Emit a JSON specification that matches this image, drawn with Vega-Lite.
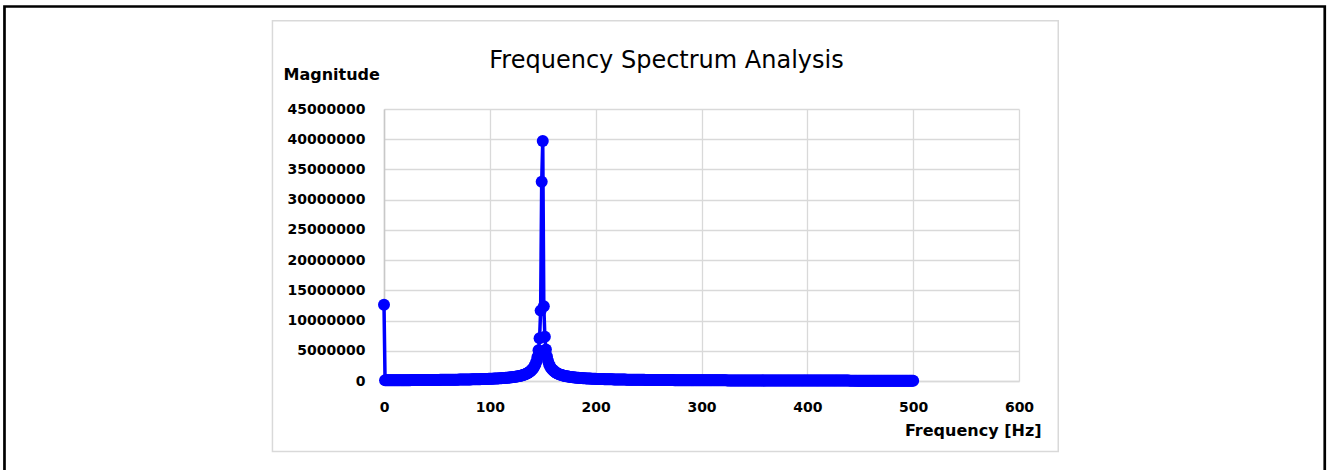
{
  "$schema": "https://vega.github.io/schema/vega-lite/v6.json",
  "width": 635,
  "height": 272,
  "autosize": {"type": "none"},
  "padding": {"left": 384, "top": 109, "right": 308, "bottom": 89},
  "background": "#ffffff",
  "title": {"text": "Frequency Spectrum Analysis", "font": "DejaVu Sans", "fontSize": 24, "fontWeight": "normal", "color": "#000000", "anchor": "middle", "frame": "group", "dx": -35, "offset": -87, "baseline": "alphabetic"},
  "config": {"view": {"stroke": null}, "axisY": {"tickCount": 10}},
  "layer": [
    {
      "data": {"values": [
{"f":0,"m":12600000},{"f":1,"m":121170},{"f":2,"m":122000},{"f":3,"m":122830},{"f":4,"m":123670},{"f":5,"m":124530},{"f":6,"m":125400},{"f":7,"m":126280},{"f":8,"m":127170},{"f":9,"m":128070},
{"f":10,"m":128990},{"f":11,"m":129920},{"f":12,"m":130870},{"f":13,"m":131820},{"f":14,"m":132800},{"f":15,"m":133780},{"f":16,"m":134790},{"f":17,"m":135800},{"f":18,"m":136830},{"f":19,"m":137880},
{"f":20,"m":138950},{"f":21,"m":140030},{"f":22,"m":141130},{"f":23,"m":142240},{"f":24,"m":143370},{"f":25,"m":144530},{"f":26,"m":145690},{"f":27,"m":146880},{"f":28,"m":148090},{"f":29,"m":149320},
{"f":30,"m":150570},{"f":31,"m":151840},{"f":32,"m":153130},{"f":33,"m":154450},{"f":34,"m":155780},{"f":35,"m":157140},{"f":36,"m":158530},{"f":37,"m":159930},{"f":38,"m":161370},{"f":39,"m":162830},
{"f":40,"m":164320},{"f":41,"m":165830},{"f":42,"m":167370},{"f":43,"m":168940},{"f":44,"m":170540},{"f":45,"m":172170},{"f":46,"m":173830},{"f":47,"m":175530},{"f":48,"m":177260},{"f":49,"m":179020},
{"f":50,"m":180820},{"f":51,"m":182650},{"f":52,"m":184530},{"f":53,"m":186440},{"f":54,"m":188390},{"f":55,"m":190380},{"f":56,"m":192420},{"f":57,"m":194500},{"f":58,"m":196620},{"f":59,"m":198790},
{"f":60,"m":201010},{"f":61,"m":203280},{"f":62,"m":205610},{"f":63,"m":207980},{"f":64,"m":210410},{"f":65,"m":212900},{"f":66,"m":215450},{"f":67,"m":218060},{"f":68,"m":220730},{"f":69,"m":223470},
{"f":70,"m":226280},{"f":71,"m":229160},{"f":72,"m":232120},{"f":73,"m":235150},{"f":74,"m":238270},{"f":75,"m":241460},{"f":76,"m":244740},{"f":77,"m":248120},{"f":78,"m":251590},{"f":79,"m":255150},
{"f":80,"m":258820},{"f":81,"m":262600},{"f":82,"m":266480},{"f":83,"m":270490},{"f":84,"m":274620},{"f":85,"m":278870},{"f":86,"m":283260},{"f":87,"m":287790},{"f":88,"m":292460},{"f":89,"m":297290},
{"f":90,"m":302290},{"f":91,"m":307450},{"f":92,"m":312790},{"f":93,"m":318330},{"f":94,"m":324060},{"f":95,"m":330000},{"f":96,"m":336160},{"f":97,"m":342560},{"f":98,"m":349200},{"f":99,"m":356110},
{"f":100,"m":363300},{"f":101,"m":370780},{"f":102,"m":378580},{"f":103,"m":386710},{"f":104,"m":395200},{"f":105,"m":404070},{"f":106,"m":413360},{"f":107,"m":423070},{"f":108,"m":433260},{"f":109,"m":443940},
{"f":110,"m":455170},{"f":111,"m":466980},{"f":112,"m":479410},{"f":113,"m":492530},{"f":114,"m":506390},{"f":115,"m":521050},{"f":116,"m":536580},{"f":117,"m":553060},{"f":118,"m":570590},{"f":119,"m":589270},
{"f":120,"m":609220},{"f":121,"m":630560},{"f":122,"m":653450},{"f":123,"m":678070},{"f":124,"m":704610},{"f":125,"m":733310},{"f":126,"m":764460},{"f":127,"m":798370},{"f":128,"m":835420},{"f":129,"m":876080},
{"f":130,"m":920900},{"f":131,"m":970560},{"f":132,"m":1025860},{"f":133,"m":1087880},{"f":134,"m":1157850},{"f":135,"m":1237450},{"f":136,"m":1328800},{"f":137,"m":1434720},{"f":138,"m":1558970},{"f":139,"m":1706810},
{"f":140,"m":1885610},{"f":141,"m":2106250},{"f":142,"m":2385370},{"f":143,"m":2749770},{"f":144,"m":3245580},{"f":145,"m":3959520},{"f":146,"m":5076140},{"f":147,"m":7069910},{"f":148,"m":11642950},{"f":149,"m":32967030},
{"f":150,"m":39700000},{"f":151,"m":12379640},{"f":152,"m":7334960},{"f":153,"m":5211350},{"f":154,"m":4041310},{"f":155,"m":3300330},{"f":156,"m":2788970},{"f":157,"m":2414820},{"f":158,"m":2129170},{"f":159,"m":1903960},
{"f":160,"m":1721830},{"f":161,"m":1571520},{"f":162,"m":1445320},{"f":163,"m":1337890},{"f":164,"m":1245330},{"f":165,"m":1164750},{"f":166,"m":1093960},{"f":167,"m":1031280},{"f":168,"m":975400},{"f":169,"m":925260},
{"f":170,"m":880020},{"f":171,"m":839000},{"f":172,"m":801640},{"f":173,"m":767460},{"f":174,"m":736080},{"f":175,"m":707160},{"f":176,"m":680430},{"f":177,"m":655640},{"f":178,"m":632610},{"f":179,"m":611120},
{"f":180,"m":591060},{"f":181,"m":572260},{"f":182,"m":554630},{"f":183,"m":538050},{"f":184,"m":522440},{"f":185,"m":507700},{"f":186,"m":493770},{"f":187,"m":480590},{"f":188,"m":468090},{"f":189,"m":456230},
{"f":190,"m":444950},{"f":191,"m":434220},{"f":192,"m":423990},{"f":193,"m":414230},{"f":194,"m":404910},{"f":195,"m":396000},{"f":196,"m":387480},{"f":197,"m":379310},{"f":198,"m":371490},{"f":199,"m":363970},
{"f":200,"m":356760},{"f":201,"m":349830},{"f":202,"m":343160},{"f":203,"m":336740},{"f":204,"m":330550},{"f":205,"m":324590},{"f":206,"m":318840},{"f":207,"m":313290},{"f":208,"m":307930},{"f":209,"m":302760},
{"f":210,"m":297750},{"f":211,"m":292900},{"f":212,"m":288210},{"f":213,"m":283670},{"f":214,"m":279270},{"f":215,"m":275000},{"f":216,"m":270860},{"f":217,"m":266850},{"f":218,"m":262950},{"f":219,"m":259160},
{"f":220,"m":255490},{"f":221,"m":251910},{"f":222,"m":248430},{"f":223,"m":245050},{"f":224,"m":241760},{"f":225,"m":238560},{"f":226,"m":235440},{"f":227,"m":232400},{"f":228,"m":229430},{"f":229,"m":226540},
{"f":230,"m":223730},{"f":231,"m":220980},{"f":232,"m":218300},{"f":233,"m":215690},{"f":234,"m":213130},{"f":235,"m":210640},{"f":236,"m":208200},{"f":237,"m":205820},{"f":238,"m":203490},{"f":239,"m":201220},
{"f":240,"m":199000},{"f":241,"m":196820},{"f":242,"m":194690},{"f":243,"m":192610},{"f":244,"m":190570},{"f":245,"m":188580},{"f":246,"m":186620},{"f":247,"m":184700},{"f":248,"m":182830},{"f":249,"m":180990},
{"f":250,"m":179190},{"f":251,"m":177420},{"f":252,"m":175690},{"f":253,"m":173990},{"f":254,"m":172320},{"f":255,"m":170690},{"f":256,"m":169090},{"f":257,"m":167510},{"f":258,"m":165970},{"f":259,"m":164450},
{"f":260,"m":162960},{"f":261,"m":161500},{"f":262,"m":160070},{"f":263,"m":158650},{"f":264,"m":157270},{"f":265,"m":155910},{"f":266,"m":154570},{"f":267,"m":153250},{"f":268,"m":151960},{"f":269,"m":150690},
{"f":270,"m":149440},{"f":271,"m":148210},{"f":272,"m":146990},{"f":273,"m":145800},{"f":274,"m":144630},{"f":275,"m":143480},{"f":276,"m":142340},{"f":277,"m":141230},{"f":278,"m":140130},{"f":279,"m":139050},
{"f":280,"m":137980},{"f":281,"m":136930},{"f":282,"m":135900},{"f":283,"m":134880},{"f":284,"m":133870},{"f":285,"m":132890},{"f":286,"m":131910},{"f":287,"m":130950},{"f":288,"m":130010},{"f":289,"m":129080},
{"f":290,"m":128160},{"f":291,"m":127250},{"f":292,"m":126360},{"f":293,"m":125480},{"f":294,"m":124610},{"f":295,"m":123750},{"f":296,"m":122910},{"f":297,"m":122070},{"f":298,"m":121250},{"f":299,"m":120440},
{"f":300,"m":119640},{"f":301,"m":118850},{"f":302,"m":118070},{"f":303,"m":117300},{"f":304,"m":116540},{"f":305,"m":115790},{"f":306,"m":115050},{"f":307,"m":114320},{"f":308,"m":113600},{"f":309,"m":112880},
{"f":310,"m":112180},{"f":311,"m":111490},{"f":312,"m":110800},{"f":313,"m":110120},{"f":314,"m":109450},{"f":315,"m":108790},{"f":316,"m":108140},{"f":317,"m":107490},{"f":318,"m":106850},{"f":319,"m":106220},
{"f":320,"m":105600},{"f":321,"m":104980},{"f":322,"m":104380},{"f":323,"m":103770},{"f":324,"m":103180},{"f":325,"m":102590},{"f":326,"m":102010},{"f":327,"m":101430},{"f":328,"m":100870},{"f":329,"m":100300},
{"f":330,"m":99750},{"f":331,"m":99200},{"f":332,"m":98650},{"f":333,"m":98120},{"f":334,"m":97580},{"f":335,"m":97060},{"f":336,"m":96540},{"f":337,"m":96020},{"f":338,"m":95510},{"f":339,"m":95010},
{"f":340,"m":94510},{"f":341,"m":94020},{"f":342,"m":93530},{"f":343,"m":93050},{"f":344,"m":92570},{"f":345,"m":92090},{"f":346,"m":91620},{"f":347,"m":91160},{"f":348,"m":90700},{"f":349,"m":90250},
{"f":350,"m":89800},{"f":351,"m":89350},{"f":352,"m":88910},{"f":353,"m":88470},{"f":354,"m":88040},{"f":355,"m":87610},{"f":356,"m":87190},{"f":357,"m":86770},{"f":358,"m":86350},{"f":359,"m":85940},
{"f":360,"m":85530},{"f":361,"m":85130},{"f":362,"m":84720},{"f":363,"m":84330},{"f":364,"m":83930},{"f":365,"m":83540},{"f":366,"m":83160},{"f":367,"m":82780},{"f":368,"m":82400},{"f":369,"m":82020},
{"f":370,"m":81650},{"f":371,"m":81280},{"f":372,"m":80920},{"f":373,"m":80550},{"f":374,"m":80190},{"f":375,"m":79840},{"f":376,"m":79490},{"f":377,"m":79140},{"f":378,"m":78790},{"f":379,"m":78450},
{"f":380,"m":78110},{"f":381,"m":77770},{"f":382,"m":77440},{"f":383,"m":77100},{"f":384,"m":76770},{"f":385,"m":76450},{"f":386,"m":76120},{"f":387,"m":75800},{"f":388,"m":75490},{"f":389,"m":75170},
{"f":390,"m":74860},{"f":391,"m":74550},{"f":392,"m":74240},{"f":393,"m":73940},{"f":394,"m":73630},{"f":395,"m":73330},{"f":396,"m":73040},{"f":397,"m":72740},{"f":398,"m":72450},{"f":399,"m":72160},
{"f":400,"m":71870},{"f":401,"m":71580},{"f":402,"m":71300},{"f":403,"m":71020},{"f":404,"m":70740},{"f":405,"m":70460},{"f":406,"m":70190},{"f":407,"m":69920},{"f":408,"m":69650},{"f":409,"m":69380},
{"f":410,"m":69110},{"f":411,"m":68850},{"f":412,"m":68580},{"f":413,"m":68320},{"f":414,"m":68060},{"f":415,"m":67810},{"f":416,"m":67550},{"f":417,"m":67300},{"f":418,"m":67050},{"f":419,"m":66800},
{"f":420,"m":66550},{"f":421,"m":66310},{"f":422,"m":66070},{"f":423,"m":65820},{"f":424,"m":65590},{"f":425,"m":65350},{"f":426,"m":65110},{"f":427,"m":64880},{"f":428,"m":64640},{"f":429,"m":64410},
{"f":430,"m":64180},{"f":431,"m":63960},{"f":432,"m":63730},{"f":433,"m":63500},{"f":434,"m":63280},{"f":435,"m":63060},{"f":436,"m":62840},{"f":437,"m":62620},{"f":438,"m":62400},{"f":439,"m":62190},
{"f":440,"m":61970},{"f":441,"m":61760},{"f":442,"m":61550},{"f":443,"m":61340},{"f":444,"m":61130},{"f":445,"m":60920},{"f":446,"m":60720},{"f":447,"m":60510},{"f":448,"m":60310},{"f":449,"m":60110},
{"f":450,"m":59910},{"f":451,"m":59710},{"f":452,"m":59510},{"f":453,"m":59320},{"f":454,"m":59120},{"f":455,"m":58930},{"f":456,"m":58740},{"f":457,"m":58550},{"f":458,"m":58360},{"f":459,"m":58170},
{"f":460,"m":57980},{"f":461,"m":57790},{"f":462,"m":57610},{"f":463,"m":57420},{"f":464,"m":57240},{"f":465,"m":57060},{"f":466,"m":56880},{"f":467,"m":56700},{"f":468,"m":56520},{"f":469,"m":56350},
{"f":470,"m":56170},{"f":471,"m":56000},{"f":472,"m":55820},{"f":473,"m":55650},{"f":474,"m":55480},{"f":475,"m":55310},{"f":476,"m":55140},{"f":477,"m":54970},{"f":478,"m":54800},{"f":479,"m":54640},
{"f":480,"m":54470},{"f":481,"m":54310},{"f":482,"m":54140},{"f":483,"m":53980},{"f":484,"m":53820},{"f":485,"m":53660},{"f":486,"m":53500},{"f":487,"m":53340},{"f":488,"m":53180},{"f":489,"m":53030},
{"f":490,"m":52870},{"f":491,"m":52720},{"f":492,"m":52560},{"f":493,"m":52410},{"f":494,"m":52260},{"f":495,"m":52110},{"f":496,"m":51950},{"f":497,"m":51810},{"f":498,"m":51660},{"f":499,"m":51510},
{"f":500,"m":51360}
      ]},
      "mark": {"type": "line", "color": "#0000ff", "strokeWidth": 3.5, "point": {"filled": true, "size": 144, "color": "#0000ff"}},
      "encoding": {
        "x": {"field": "f", "type": "quantitative",
          "scale": {"domain": [0, 600], "nice": false, "zero": false},
          "axis": {"title": "Frequency [Hz]", "values": [0, 100, 200, 300, 400, 500, 600], "tickCount": 10, "format": "d",
            "labelFont": "DejaVu Sans", "labelFontWeight": "bold", "labelFontSize": 14, "labelColor": "#000000", "labelPadding": 19, "labelFlush": false, "labelOverlap": false,
            "ticks": false, "domainColor": "#d9d9d9", "domainWidth": 1.3, "gridColor": "#d9d9d9", "gridWidth": 1.3,
            "titleFont": "DejaVu Sans", "titleFontSize": 16, "titleFontWeight": "bold", "titleColor": "#000000",
            "titleX": 657, "titleY": 54, "titleAlign": "right", "titleAnchor": null, "titleBaseline": "alphabetic", "titleAngle": 0}},
        "y": {"field": "m", "type": "quantitative",
          "scale": {"domain": [0, 45000000], "nice": false, "zero": false},
          "axis": {"title": "Magnitude", "values": [0, 5000000, 10000000, 15000000, 20000000, 25000000, 30000000, 35000000, 40000000, 45000000], "tickCount": 10, "format": "d",
            "labelFont": "DejaVu Sans", "labelFontWeight": "bold", "labelFontSize": 14, "labelColor": "#000000", "labelPadding": 19, "labelFlush": false, "labelOverlap": false,
            "ticks": false, "domainColor": "#c8c8c8", "domainWidth": 1.5, "gridColor": "#d9d9d9", "gridWidth": 1.3,
            "titleFont": "DejaVu Sans", "titleFontSize": 16, "titleFontWeight": "bold", "titleColor": "#000000",
            "titleX": -101, "titleY": -30, "titleAlign": "left", "titleAnchor": null, "titleBaseline": "alphabetic", "titleAngle": 0}}
      }
    },
    {
      "data": {"values": [{"frame": "chart area"}]},
      "mark": {"type": "rect", "filled": false, "color": "#d9d9d9", "strokeWidth": 1.5},
      "encoding": {
        "x": {"datum": -105.4, "type": "quantitative", "axis": {"values": [0, 100, 200, 300, 400, 500, 600], "tickCount": 10}},
        "x2": {"datum": 637.1},
        "y": {"datum": 59610000, "type": "quantitative", "axis": {"values": [0, 5000000, 10000000, 15000000, 20000000, 25000000, 30000000, 35000000, 40000000, 45000000], "tickCount": 10}},
        "y2": {"datum": -11660000}
      }
    },
    {
      "data": {"values": [{"frame": "page"}]},
      "mark": {"type": "rect", "filled": false, "color": "#000000", "strokeWidth": 2.7},
      "encoding": {
        "x": {"datum": -358.6, "type": "quantitative", "axis": {"values": [0, 100, 200, 300, 400, 500, 600], "tickCount": 10}},
        "x2": {"datum": 888.9},
        "y": {"datum": 61960000, "type": "quantitative", "axis": {"values": [0, 5000000, 10000000, 15000000, 20000000, 25000000, 30000000, 35000000, 40000000, 45000000], "tickCount": 10}},
        "y2": {"datum": -16380000}
      }
    }
  ]
}
